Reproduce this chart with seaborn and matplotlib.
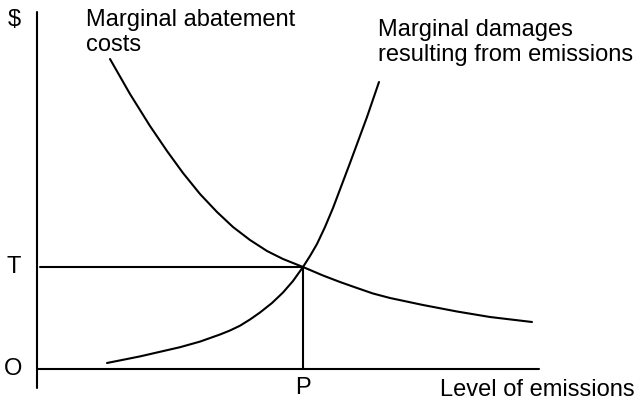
import matplotlib
matplotlib.use("Agg")
import matplotlib.pyplot as plt
import seaborn as sns
import pandas as pd

# Marginal abatement cost curve (emissions, $)
mac_x = [7.3, 9.3, 11.3, 13.0, 14.6, 16.3, 18.0, 19.6, 21.3, 23.0, 24.6,
         26.6, 28.6, 30.3, 32.0, 33.6, 35.3, 38.6, 42.0, 45.3, 49.5]
mac_y = [31.0, 27.5, 24.3, 21.8, 19.6, 17.5, 15.7, 14.2, 12.9, 11.8, 11.0,
         10.2, 9.35, 8.7, 8.1, 7.55, 7.1, 6.4, 5.75, 5.2, 4.7]

# Marginal damage curve (emissions, $)
md_x = [7.0, 10.3, 14.3, 16.3, 18.3, 19.3, 20.3, 21.3, 22.3, 23.5, 24.6, 25.6,
        26.6, 27.3, 28.0, 28.8, 29.6, 31.3, 33.0, 34.2]
md_y = [0.6, 1.26, 2.18, 2.74, 3.45, 3.85, 4.33, 4.95, 5.65, 6.6, 7.65, 8.8,
        10.2, 11.3, 12.5, 14.2, 16.1, 20.6, 25.2, 28.7]

# Equilibrium
P_val = 26.6
T_val = 10.2

df = pd.concat([
    pd.DataFrame({"x": mac_x, "y": mac_y, "curve": "mac"}),
    pd.DataFrame({"x": md_x, "y": md_y, "curve": "md"}),
])

sns.set_theme(style="white")
plt.rcParams['font.family'] = ['Liberation Sans', 'DejaVu Sans']
plt.rcParams['text.color'] = 'black'
plt.rcParams['lines.solid_joinstyle'] = 'round'

fig = plt.figure(figsize=(6.37, 4.05), dpi=100)
ax = fig.add_axes([0, 0, 1, 1])
ax.set_xlim(-3.7, 60.0)
ax.set_ylim(-3.6, 36.9)
ax.axis("off")

sns.lineplot(data=df, x="x", y="y", units="curve", estimator=None, sort=False,
             color="black", lw=1.5, ax=ax, legend=False)

# axes lines
ax.plot([0, 0], [-1.9, 35.7], color="black", lw=1.5)
ax.plot([0, 50.2], [0, 0], color="black", lw=1.5)
# equilibrium lines
ax.plot([0.3, P_val], [T_val, T_val], color="black", lw=1.5)
ax.plot([P_val, P_val], [0, T_val], color="black", lw=1.5)

fs = 17
ax.text(-2.3, 34.9, "$", fontsize=fs, ha="center", va="center", color="black")
ax.text(-2.3, T_val, "T", fontsize=fs, ha="center", va="center", color="black")
ax.text(-2.4, 0, "O", fontsize=fs, ha="center", va="center", color="black")
ax.text(P_val, -1.9, "P", fontsize=fs, ha="center", va="center", color="black")
ax.text(59.8, -2.1, "Level of emissions", fontsize=fs, ha="right", va="center",
        color="black")
ax.text(4.9, 36.0, "Marginal abatement\ncosts", fontsize=fs, ha="left", va="top",
        linespacing=1.2, color="black")
ax.text(34.1, 35.0, "Marginal damages\nresulting from emissions", fontsize=fs,
        ha="left", va="top", linespacing=1.2, color="black")

fig.savefig("out.png", dpi=100)
